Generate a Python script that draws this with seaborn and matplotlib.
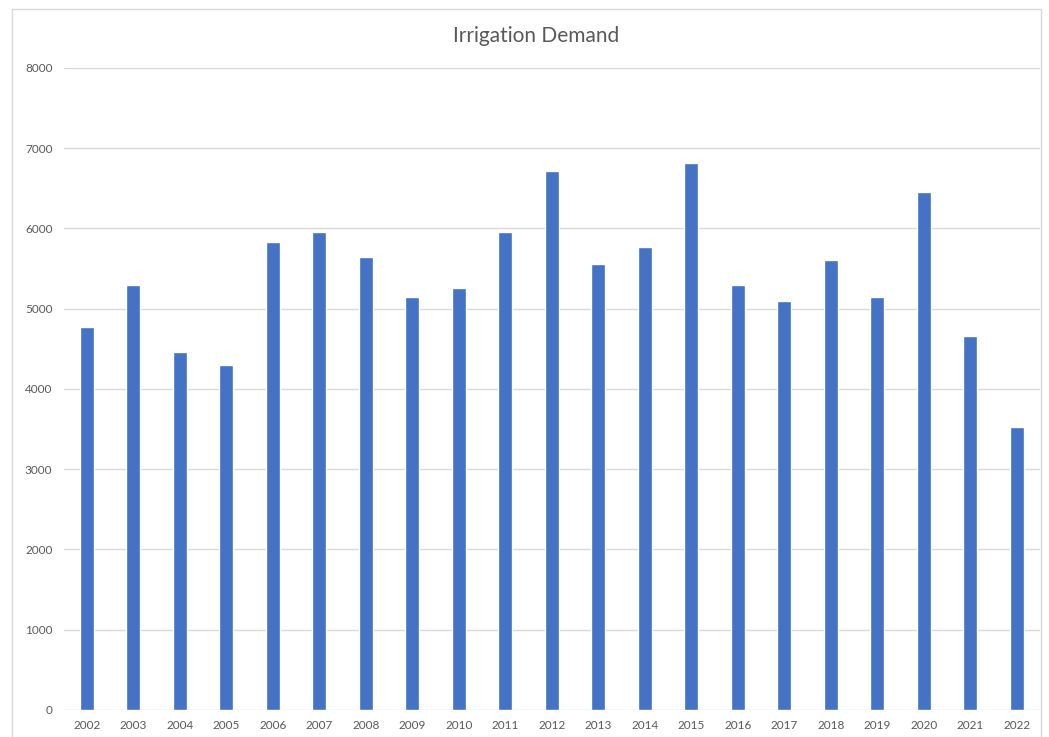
import matplotlib
matplotlib.use('Agg')
import matplotlib.pyplot as plt
import seaborn as sns
import pandas as pd
from matplotlib.patches import Rectangle

# values
years = ['2002', '2003', '2004', '2005', '2006', '2007', '2008', '2009', '2010', '2011', '2012',
         '2013', '2014', '2015', '2016', '2017', '2018', '2019', '2020', '2021', '2022']
demand = [4775, 5300, 4460, 4295, 5830, 5960, 5650, 5140, 5260, 5960, 6720,
          5560, 5775, 6810, 5300, 5090, 5610, 5140, 6450, 4660, 3530]
y_ticks = [0, 1000, 2000, 3000, 4000, 5000, 6000, 7000, 8000]

df = pd.DataFrame({'year': years, 'demand': demand})

sns.set_style('white')
plt.rcParams['font.family'] = ['Lato', 'DejaVu Sans']

W, H = 1049, 737
fig = plt.figure(figsize=(W / 100, H / 100), dpi=100)

# outer chart border like the Excel chart area
fig.patches.append(Rectangle((11.5 / W, -0.01), (1041 - 11.5) / W, 1 - 9 / H + 0.01,
                             transform=fig.transFigure, fill=False,
                             edgecolor='#d9d9d9', linewidth=1.0))

ax = fig.add_axes([63.5 / W, (H - 709.8) / H, (1040 - 63.5) / W, (709.8 - 68) / H])
sns.barplot(data=df, x='year', y='demand', color='#4472C4', width=0.31,
            saturation=1, ax=ax, zorder=3)

ax.set_ylim(0, 8000)
ax.set_yticks(y_ticks)
ax.set_xlim(-0.5, len(years) - 0.5)
ax.grid(axis='y', color='#d9d9d9', linewidth=1.0, zorder=0)
ax.set_axisbelow(True)
for s in ax.spines.values():
    s.set_visible(False)
ax.tick_params(axis='both', length=0, labelsize=8.5, labelcolor='#595959')
ax.tick_params(axis='y', pad=8)
ax.tick_params(axis='x', pad=7)
ax.set_xlabel('')
ax.set_ylabel('')

fig.text(536 / W, (H - 42.5) / H, 'Irrigation Demand', ha='center', va='baseline',
         fontsize=15, color='#595959')

fig.savefig('out.png', dpi=100)
